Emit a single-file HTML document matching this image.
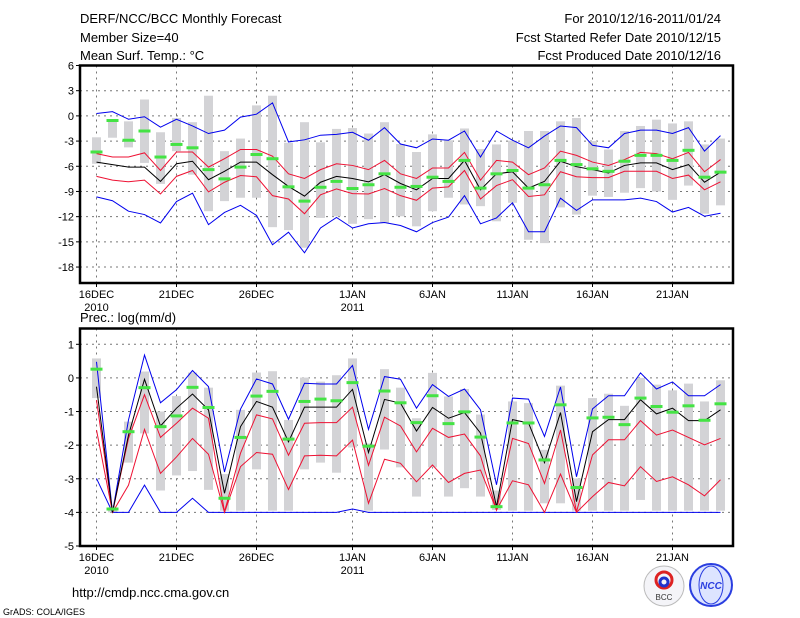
<!DOCTYPE html>
<html><head><meta charset="utf-8"><style>
body{margin:0;background:#fff;}
svg{display:block;font-family:"Liberation Sans",sans-serif;}
</style></head><body>
<svg id="c" width="800" height="618" viewBox="0 0 800 618">
<text x="80" y="23" font-size="13">DERF/NCC/BCC Monthly Forecast</text>
<text x="80" y="42" font-size="13">Member Size=40</text>
<text x="80" y="60" font-size="13">Mean Surf. Temp.: °C</text>
<text x="721" y="23" font-size="13" text-anchor="end">For 2010/12/16-2011/01/24</text>
<text x="721" y="42" font-size="13" text-anchor="end">Fcst Started Refer Date 2010/12/15</text>
<text x="721" y="60" font-size="13" text-anchor="end">Fcst Produced Date 2010/12/16</text>
<text x="80" y="322" font-size="13">Prec.: log(mm/d)</text>
<text x="72" y="597" font-size="13">http://cmdp.ncc.cma.gov.cn</text>
<text x="3" y="615" font-size="9">GrADS: COLA/IGES</text>
<g><circle cx="664" cy="586" r="20" fill="#f4f4f8" stroke="#bbb"/><circle cx="664" cy="580" r="8" fill="none" stroke="#d22" stroke-width="3"/><circle cx="664" cy="582" r="4" fill="none" stroke="#23c" stroke-width="3"/><text x="664" y="600" font-size="8" text-anchor="middle" fill="#333">BCC</text></g>
<g><circle cx="711" cy="585" r="21" fill="#dde4ff" stroke="#2a3ee0" stroke-width="2"/><ellipse cx="711" cy="585" rx="12" ry="19" fill="none" stroke="#2a3ee0"/><text x="711" y="589" font-size="10" font-style="italic" font-weight="bold" text-anchor="middle" fill="#2a3ee0">NCC</text></g>
<g id="top"></g>
<g id="bot"></g>
</svg>
<script>
const dayLabels=["16DEC","21DEC","26DEC","1JAN","6JAN","11JAN","16JAN","21JAN"];
const dayLabelIdx=[0,5,10,16,21,26,31,36];
const tTicks=[6,3,0,-3,-6,-9,-12,-15,-18];
const pTicks=[1,0,-1,-2,-3,-4,-5];
// Temperature
const tMax=[0.28,0.5,-0.4,-0.1,-1.35,-0.4,-1.2,-2.1,-1.7,-0.15,0.2,1.55,-3.1,-2.85,-2.3,-2.2,-1.95,-2.9,-1.4,-3.35,-3.8,-2.75,-2.9,-1.8,-4.9,-1.8,-2.9,-3.8,-2.4,-1.2,-1.4,-3.5,-3.8,-2.1,-1.7,-1.7,-2.1,-1.4,-4.2,-2.35];
const tMin=[-9.65,-10.1,-11.35,-11.75,-12.75,-10.2,-9.2,-12.95,-11.5,-10.65,-11.85,-15.35,-13.85,-16.3,-13.35,-12.1,-13.35,-12.85,-12.7,-13.05,-13.8,-12.7,-12.05,-9.5,-12.85,-12.15,-10.35,-13.8,-13.8,-9.8,-11.25,-10.0,-10.0,-10.0,-9.8,-10.2,-11.45,-10.9,-11.95,-11.6];
const tUp=[-4.5,-4.9,-4.9,-4.4,-6.5,-4.3,-4.3,-6.1,-5.1,-4.0,-4.0,-4.8,-6.9,-7.45,-6.4,-5.7,-5.9,-6.4,-5.3,-6.9,-7.45,-6.2,-6.2,-4.35,-7.65,-5.3,-5.5,-7.0,-6.2,-4.2,-4.7,-5.5,-5.9,-5.2,-4.35,-4.5,-5.1,-4.35,-6.65,-5.2];
const tMean=[-5.5,-5.8,-6.1,-6.1,-7.8,-5.7,-5.4,-7.6,-6.6,-5.5,-5.5,-7.0,-8.4,-9.55,-7.9,-7.2,-7.45,-7.85,-7.0,-8.05,-8.8,-7.45,-7.45,-5.3,-8.8,-6.9,-6.65,-8.6,-7.8,-5.4,-6.05,-6.4,-6.8,-5.9,-5.6,-5.6,-6.4,-5.8,-7.9,-6.7];
const tLo=[-7.2,-7.65,-7.85,-7.65,-9.3,-7.2,-6.5,-9.05,-7.9,-7.1,-7.25,-9.5,-9.9,-11.65,-9.4,-8.7,-9.25,-9.3,-8.65,-9.5,-10.05,-8.6,-8.45,-6.5,-9.9,-8.3,-7.6,-9.6,-9.4,-6.65,-7.25,-7.35,-7.35,-6.6,-6.6,-6.6,-7.45,-7.05,-8.8,-7.85];
const tObs=[-4.3,-0.55,-2.9,-1.8,-4.9,-3.4,-3.8,-6.4,-7.5,-6.1,-4.6,-5.1,-8.45,-10.15,-8.5,-7.8,-8.65,-8.2,-6.9,-8.5,-8.4,-7.3,-7.8,-5.3,-8.6,-6.9,-6.5,-8.6,-8.2,-5.3,-5.8,-6.3,-6.6,-5.4,-4.7,-4.7,-5.3,-4.1,-7.3,-6.7];
const tBarHi=[-2.55,-0.45,-0.65,1.95,-1.95,-0.25,-0.75,2.4,-4.2,-2.7,1.25,2.4,-3.2,-0.75,-3.15,-1.55,-1.45,-2.1,-0.75,-3.35,-4.3,-2.2,-2.9,-1.5,-3.95,-3.4,-2.95,-1.8,-1.8,-0.65,-0.25,-3.0,-4.0,-1.8,-1.2,-0.45,-0.9,-0.65,-3.4,-2.7];
const tBarLo=[-5.7,-2.6,-3.75,-5.6,-8.1,-4.2,-7.0,-11.35,-10.15,-9.75,-9.75,-13.25,-13.6,-15.7,-12.15,-11.95,-12.85,-12.3,-12.75,-11.95,-13.15,-11.35,-9.75,-10.55,-10.75,-12.55,-10.35,-14.75,-15.15,-10.9,-11.75,-9.5,-9.65,-9.15,-8.6,-9.0,-10.0,-8.3,-11.65,-10.65];
// Precipitation
const pMax=[0.48,-4.0,-1.25,0.68,-0.74,-0.35,0.22,-0.26,-2.8,-0.93,-0.03,-0.18,-1.23,-0.16,-0.18,-0.18,0.37,-1.53,0.04,-0.04,-0.9,-0.2,-0.55,-0.33,-0.95,-3.18,-0.6,-0.63,-1.74,-0.27,-2.94,-0.92,-0.53,-0.53,0.15,-0.33,-0.12,-0.53,-0.53,-0.2];
const pUp=[-0.66,-4.0,-1.8,-0.5,-1.77,-1.35,-0.9,-1.2,-3.98,-2.24,-1.1,-1.22,-2.3,-1.35,-1.33,-1.33,-0.87,-2.6,-1.17,-1.43,-2.2,-1.5,-1.77,-1.67,-2.32,-3.93,-1.8,-1.95,-3.14,-1.55,-3.98,-2.29,-1.84,-1.84,-1.27,-1.7,-1.55,-1.77,-1.99,-1.8];
const pMean=[-0.26,-4.0,-1.7,-0.04,-1.43,-0.9,-0.48,-0.95,-3.43,-1.45,-0.7,-0.87,-1.9,-0.87,-0.87,-0.87,-0.34,-2.22,-0.64,-0.75,-1.58,-0.88,-1.2,-1.03,-1.64,-3.83,-1.24,-1.34,-2.52,-1.03,-3.68,-1.6,-1.24,-1.24,-0.65,-1.07,-0.9,-1.27,-1.27,-0.95];
const pLo=[-1.55,-4.0,-3.19,-1.53,-2.84,-2.35,-1.8,-2.27,-4.0,-2.64,-2.22,-2.27,-3.32,-2.32,-2.3,-2.32,-1.85,-3.73,-2.42,-2.54,-3.09,-2.59,-3.11,-2.84,-2.74,-3.93,-3.06,-3.18,-4.0,-2.86,-4.0,-3.53,-3.11,-3.21,-2.64,-3.08,-2.94,-3.18,-3.51,-3.03];
const pMin=[-2.99,-4,-4,-3.19,-4,-4,-3.58,-4,-4,-4,-4,-4,-4,-4,-4,-4,-3.9,-4,-4,-4,-4,-4,-4,-4,-4,-4,-4,-4,-4,-4,-4,-4,-4,-4,-4,-4,-4,-4,-4,-4];
const pObs=[0.26,-3.9,-1.6,-0.29,-1.45,-1.13,-0.28,-0.88,-3.58,-1.77,-0.54,-0.4,-1.82,-0.7,-0.63,-0.68,-0.14,-2.03,-0.39,-0.74,-1.33,-0.53,-1.36,-1.01,-1.76,-3.83,-1.34,-1.34,-2.44,-0.8,-3.26,-1.19,-1.17,-1.39,-0.6,-0.85,-1.02,-0.83,-1.26,-0.77];
const pBarHi=[0.58,-3.85,-1.3,0.19,-1.0,-0.54,0.16,-0.29,-2.86,-0.95,0.16,0.2,-1.25,0.01,-0.11,0.08,0.58,-1.95,0.26,-0.29,-1.2,0.15,-0.55,-0.33,-1.09,-3.35,-0.7,-0.75,-2.14,-0.23,-2.99,-0.6,-0.47,-0.83,0.0,-0.2,-0.37,-0.17,-0.7,-0.07];
const pBarLo=[-0.6,-4.0,-2.52,-1.65,-3.35,-2.9,-2.77,-3.33,-3.95,-3.95,-2.72,-3.95,-3.95,-2.72,-2.52,-2.82,-2.07,-3.95,-2.13,-2.66,-3.53,-2.66,-3.53,-3.28,-3.53,-3.93,-3.95,-3.95,-3.73,-3.73,-3.95,-3.95,-3.95,-3.95,-3.63,-3.95,-3.95,-3.95,-3.95,-3.95];

const NS="http://www.w3.org/2000/svg";
const X0=80,X1=733,D0=96.5,DW=16;
function xd(i){return D0+DW*i;}
function mk(p,tag,at){const e=document.createElementNS(NS,tag);for(const k in at)e.setAttribute(k,at[k]);p.appendChild(e);return e;}

function panel(g,top,bot,vTop,vBot,ticks,series,sname){
  const y=v=>top+(vTop-v)/(vTop-vBot)*(bot-top);
  ticks.forEach(t=>{const yy=y(t);
    if(yy>top+1&&yy<bot-1){const l=mk(g,'line',{x1:X0,x2:X1,y1:yy,y2:yy,stroke:'#777','stroke-dasharray':'2,4','stroke-width':1});
    
    }
    const tk=mk(g,'line',{x1:X0-4,x2:X0,y1:yy,y2:yy,stroke:'#000'});
    
    
    const tx=mk(g,'text',{x:X0-6,y:yy+4,'font-size':11,'text-anchor':'end'});tx.textContent=t;
    
    
  });
  dayLabelIdx.forEach((d,k)=>{const xx=xd(d);
    const l=mk(g,'line',{x1:xx,x2:xx,y1:top,y2:bot,stroke:'#777','stroke-dasharray':'2,4'});
    
    
    const tk=mk(g,'line',{x1:xx,x2:xx,y1:bot,y2:bot+4,stroke:'#000'});
    
    
    const tx=mk(g,'text',{x:xx,y:bot+15,'font-size':11,'text-anchor':'middle'});tx.textContent=dayLabels[k];
    
    
    if(d===0||d===16){const t2=mk(g,'text',{x:xx,y:bot+28,'font-size':11,'text-anchor':'middle'});t2.textContent=d===0?'2010':'2011';
      
      }
  });
  series.barHi.forEach((h,i)=>{const lo=series.barLo[i];
    const r=mk(g,'rect',{x:xd(i)-4.5,y:y(h),width:9,height:Math.max(1,y(lo)-y(h)),fill:'#d3d3d6'});
    
    
  });
  const line=(arr,col,nm)=>{const p=mk(g,'polyline',{points:arr.map((v,i)=>xd(i)+','+y(v)).join(' '),fill:'none',stroke:col,'stroke-width':1});
    
    };
  line(series.max,'#0000ee',sname+'-max-line');
  line(series.min,'#0000ee',sname+'-min-line');
  line(series.up,'#ee1133',sname+'-upper-line');
  line(series.lo,'#ee1133',sname+'-lower-line');
  line(series.mean,'#000',sname+'-mean-line');
  series.obs.forEach((v,i)=>{const r=mk(g,'rect',{x:xd(i)-6,y:y(v)-1.5,width:12,height:3,fill:'#44e344'});
    
    });
  const f=mk(g,'rect',{x:X0,y:top,width:X1-X0,height:bot-top,fill:'none',stroke:'#000','stroke-width':2.5});
  
  
}
panel(document.getElementById('top'),65.5,283,6,-19.9,tTicks,{max:tMax,min:tMin,up:tUp,lo:tLo,mean:tMean,obs:tObs,barHi:tBarHi,barLo:tBarLo},'temp');
panel(document.getElementById('bot'),328.5,546,1.47,-5,pTicks,{max:pMax,min:pMin,up:pUp,lo:pLo,mean:pMean,obs:pObs,barHi:pBarHi,barLo:pBarLo},'prec');
</script>
</body></html>
